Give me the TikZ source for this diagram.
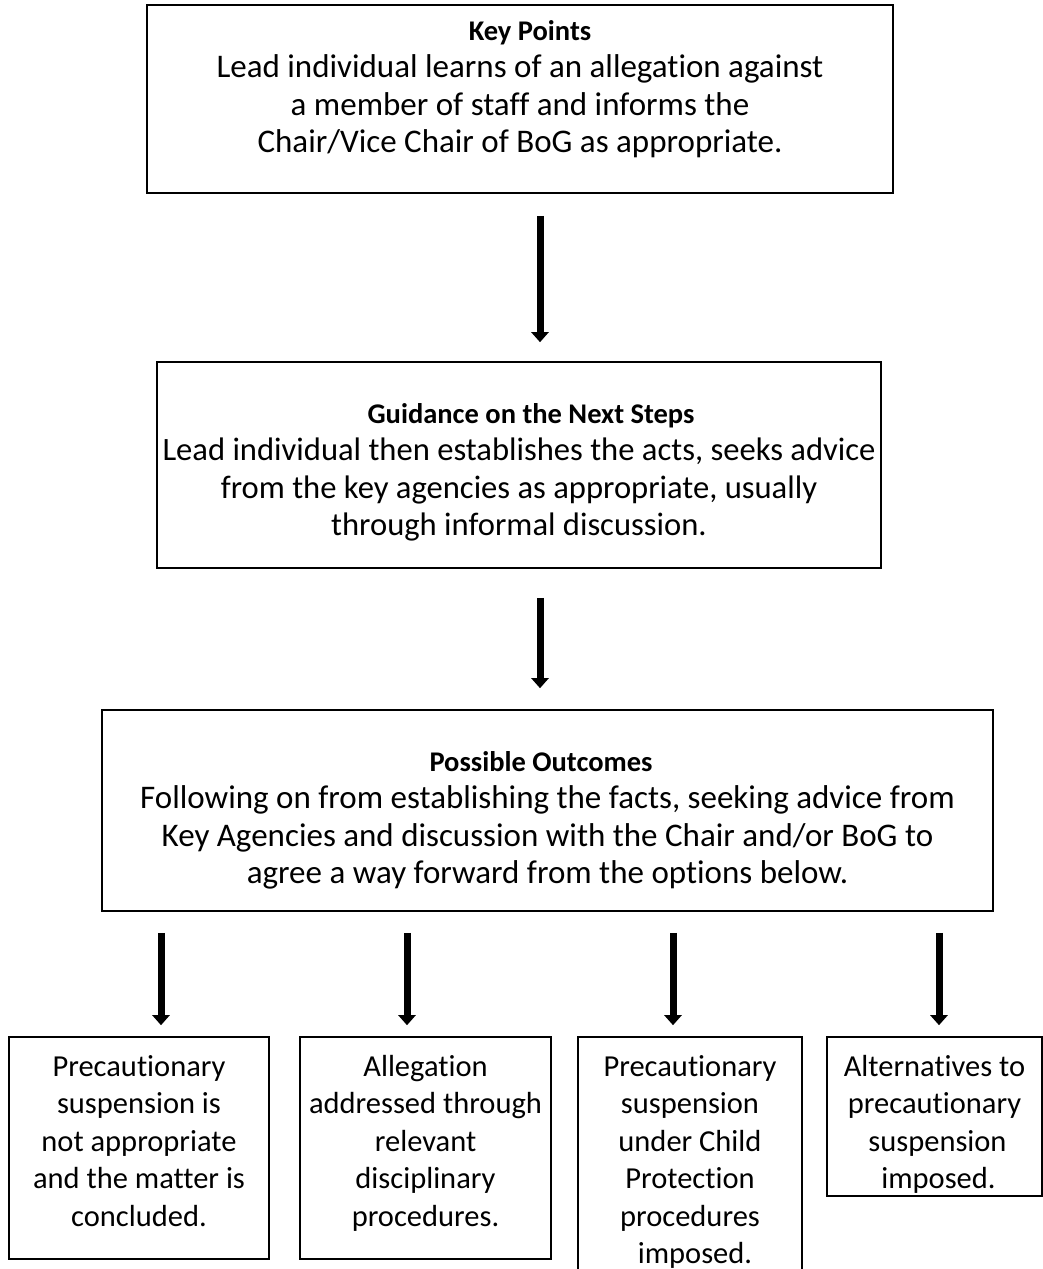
\documentclass[tikz,border=0pt]{standalone}
\usepackage{fontspec}
\setmainfont{Carlito}[Ligatures=NoCommon]
\usetikzlibrary{arrows.meta}
\newcommand\fbx[4]{\parbox[c][#2][t]{#1}{\vspace*{#3}#4}}
\newcommand\rowtext[1]{\makebox[\linewidth]{\strut#1}\par}
\newcommand\ttl[1]{{\fontsize{28.5}{37.5}\selectfont\bfseries #1}}
\tikzset{
  box/.style={draw=black, line width=1.6pt, inner sep=0pt, font=\fontsize{33}{37.5}\selectfont},
  midbox/.style={box, font=\fontsize{32.6}{37.5}\selectfont},
  smallbox/.style={box, font=\fontsize{30.5}{37.5}\selectfont},
  bigarrow/.style={draw=black, line width=7pt, -{Triangle[width=17pt,length=10pt]}}
}
\begin{document}
\begin{tikzpicture}[x=1pt,y=-1pt]
\useasboundingbox (0,0) rectangle (1043,1269);
\coordinate (ax) at (540,0);
\coordinate (c1) at (161,0);
\coordinate (c2) at (407,0);
\coordinate (c3) at (673,0);
\coordinate (c4) at (939,0);

\node[box] (key) at (520,99) {\fbx{746pt}{188pt}{9pt}{%
  \rowtext{\hspace*{20pt}\ttl{Key Points}}%
  \rowtext{Lead individual learns of an allegation against}%
  \rowtext{a member of staff and informs the}%
  \rowtext{Chair/Vice Chair of BoG as appropriate.}}};

\node[midbox] (guide) at (519,465) {\fbx{724pt}{206pt}{35pt}{%
  \rowtext{\hspace*{24pt}\ttl{Guidance on the Next Steps}}%
  \rowtext{Lead individual then establishes the acts, seeks advice}%
  \rowtext{from the key agencies as appropriate, usually}%
  \rowtext{through informal discussion.}}};

\node[box] (out) at (547.5,810.5) {\fbx{891pt}{201pt}{35pt}{%
  \rowtext{\ttl{Possible Outcomes}\hspace*{13pt}}%
  \rowtext{Following on from establishing the facts, seeking advice from}%
  \rowtext{Key Agencies and discussion with the Chair and/or BoG to}%
  \rowtext{agree a way forward from the options below.}}};

\node[smallbox] (o1) at (139,1148) {\fbx{260pt}{222pt}{13pt}{%
  \rowtext{Precautionary}%
  \rowtext{suspension is}%
  \rowtext{not appropriate}%
  \rowtext{and the matter is}%
  \rowtext{concluded.}}};

\node[smallbox] (o2) at (425.5,1148) {\fbx{251pt}{222pt}{13pt}{%
  \rowtext{Allegation}%
  \rowtext{addressed through}%
  \rowtext{relevant}%
  \rowtext{disciplinary}%
  \rowtext{procedures.}}};

\node[smallbox] (o3) at (690,1163.5) {\fbx{224pt}{253pt}{13pt}{%
  \rowtext{Precautionary}%
  \rowtext{suspension}%
  \rowtext{under Child}%
  \rowtext{Protection}%
  \rowtext{procedures}%
  \rowtext{\hspace*{10pt}imposed.}}};

\node[smallbox] (o4) at (934.5,1116.5) {\fbx{215pt}{159pt}{13pt}{%
  \rowtext{Alternatives to}%
  \rowtext{precautionary}%
  \rowtext{\hspace*{6pt}suspension}%
  \rowtext{\hspace*{8pt}imposed.}}};

\draw[bigarrow, shorten <=22pt, shorten >=19pt] (key.south -| ax) -- (guide.north -| ax);
\draw[bigarrow, shorten <=29pt, shorten >=21pt] (guide.south -| ax) -- (out.north -| ax);
\draw[bigarrow, shorten <=21pt, shorten >=11pt] (out.south -| c1) -- (o1.north -| c1);
\draw[bigarrow, shorten <=21pt, shorten >=11pt] (out.south -| c2) -- (o2.north -| c2);
\draw[bigarrow, shorten <=21pt, shorten >=11pt] (out.south -| c3) -- (o3.north -| c3);
\draw[bigarrow, shorten <=21pt, shorten >=11pt] (out.south -| c4) -- (o4.north -| c4);
\end{tikzpicture}
\end{document}
